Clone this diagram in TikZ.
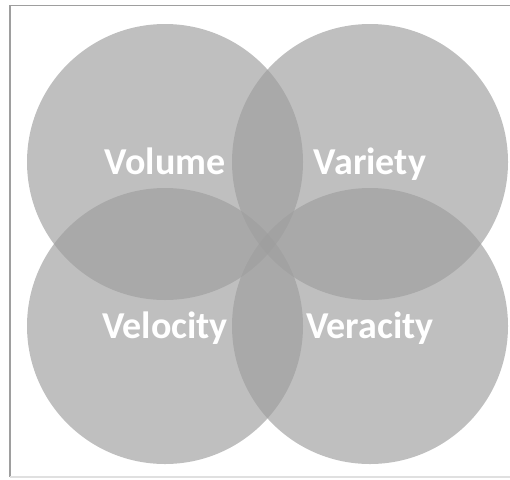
\documentclass[tikz,border=0pt]{standalone}
\usepackage{fontspec}
\setmainfont{Carlito}
\tikzset{
  circ/.style  = {fill=black!38, fill opacity=0.66, draw=none},
  lbl/.style   = {text=white, font=\bfseries\fontsize{38}{40}\selectfont,
                  inner sep=0pt, text height=24.5pt, text depth=0pt},
  frame/.style = {draw=black!38, line width=1.5pt}
}
\begin{document}
\begin{tikzpicture}[x=1pt, y=-1pt]
  \useasboundingbox (0,0) rectangle (510,479);
  % circle centres
  \coordinate (vol) at (165,162);
  \coordinate (var) at (370,162);
  \coordinate (vel) at (165,326);
  \coordinate (ver) at (370,326);
  % outer frame (right side runs off the picture)
  \draw[frame] (515,5.5) -- (10,5.5) -- (10,477);
  \draw[frame, draw=black!12] (10,477) -- (515,477);
  \foreach \c in {vol,var,vel,ver}
    \fill[circ] (\c) circle (138);
  \node[lbl] (tvol) at (vol) {Volume};
  \node[lbl] (tvar) at (var) {Variety};
  \node[lbl] (tvel) at (vel) {Velocity};
  \node[lbl] (tver) at (ver) {Veracity};
\end{tikzpicture}
\end{document}
